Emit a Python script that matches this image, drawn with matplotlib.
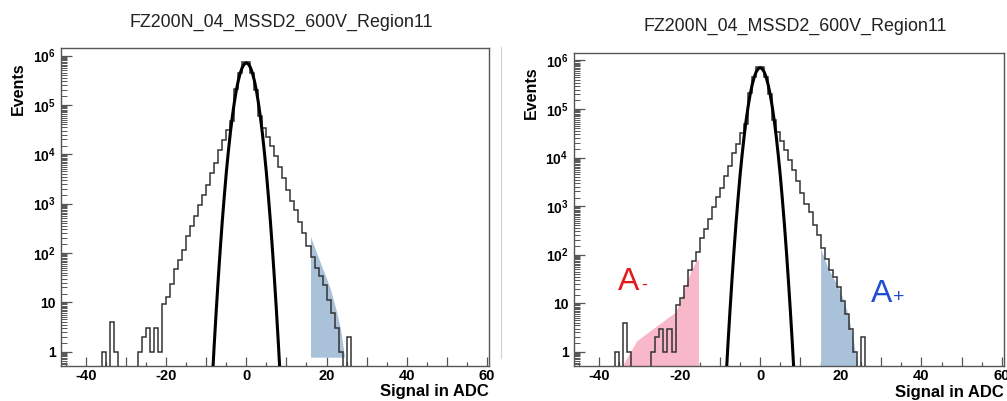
import numpy as np
import matplotlib.pyplot as plt
from matplotlib.ticker import LogLocator, MultipleLocator, NullFormatter
from matplotlib.lines import Line2D

plt.rcParams['font.family'] = ['Liberation Sans', 'DejaVu Sans']
plt.rcParams['mathtext.fontset'] = 'custom'
plt.rcParams['mathtext.rm'] = 'Liberation Sans'
plt.rcParams['mathtext.bf'] = 'Liberation Sans:bold'

title = 'FZ200N_04_MSSD2_600V_Region11'

# histogram, 1 ADC wide bins starting at -36
bin_edges = np.arange(-36, 27)
counts = [1, 0, 4, 1, 0, 0, 0, 0, 0, 1, 2, 3, 1, 3, 1, 9, 13, 23, 48, 73,
          115, 225, 344, 547, 950, 1510, 2400, 4150, 6600, 12300, 19000,
          31500, 48000, 210000, 450000, 730000, 730000, 450000, 200000,
          58500, 34000, 22400, 14400, 9100, 5600, 3300, 1900, 1100, 750,
          415, 250, 135, 82, 49, 34, 22, 11, 6, 3, 1, 0, 2]

# gaussian fit curve
fit_x = [-8.5, -8, -7.5, -7, -6.5, -6, -5.5, -5, -4.5, -4, -3.5, -3, -2.5,
         -2, -1.5, -1, -0.5, 0, 0.5, 1, 1.5, 2, 2.5, 3, 3.5, 4, 4.5, 5,
         5.5, 6, 6.5, 7, 7.5, 8, 8.5]
fit_y = [0.25, 1.4, 6.8, 30, 120, 435, 1400, 4200, 11000, 26500, 57000,
         111000, 196000, 311000, 446000, 577000, 673000, 708000, 673000,
         577000, 446000, 311000, 196000, 111000, 57000, 26500, 11000, 4200,
         1400, 435, 120, 30, 6.8, 1.4, 0.25]

# shaded tails
blue_left_x = [16.0, 17.0, 18.5, 20.0, 21.0, 22.6, 23.5, 24.3, 24.5]
blue_left_top = [214, 130, 62, 30, 18, 6, 2.8, 1.0, 0.77]
blue_left_base = 0.77

blue_right_x = [15.0, 16.7, 18.0, 19.4, 20.5, 21.5, 22.3, 23.1, 24.1]
blue_right_top = [135, 56, 35, 22, 12.6, 7.2, 3.7, 1.8, 0.51]

pink_x = [-34.3, -30.6, -21.1, -20.0, -19.0, -18.0, -17.0, -16.0, -15.3]
pink_top = [0.5, 1.7, 6.5, 10, 18, 30, 50, 72, 80]

ytick_vals = [1, 10, 1e2, 1e3, 1e4, 1e5, 1e6]
ytick_labels = ['1', '10', r'$\mathbf{10^{2}}$', r'$\mathbf{10^{3}}$',
                r'$\mathbf{10^{4}}$', r'$\mathbf{10^{5}}$', r'$\mathbf{10^{6}}$']

frame_col = '#555555'
hist_col = '#333333'
blue_col = '#a9c1d9'
pink_col = '#f9b8c9'

fig = plt.figure(figsize=(10.07, 4.01), dpi=100)
axL = fig.add_axes([0.0606, 0.0873, 0.425, 0.793])
axR = fig.add_axes([0.570, 0.0873, 0.427, 0.7805])


def style(ax, xlab_y):
    ax.set_yscale('log')
    ax.set_xlim(-46.2, 60.5)
    ax.set_ylim(0.51, 1.42e6)
    xt = np.arange(-40, 61, 10)
    ax.set_xticks(xt)
    ax.set_xticklabels([str(v) if v % 20 == 0 else '' for v in xt],
                       fontweight='bold', fontsize=10.5)
    ax.xaxis.set_minor_locator(MultipleLocator(5))
    ax.set_yticks(ytick_vals)
    ax.set_yticklabels(ytick_labels, fontweight='bold', fontsize=10)
    ax.yaxis.set_minor_locator(LogLocator(subs=np.arange(1.5, 10, 0.5)))
    ax.yaxis.set_minor_formatter(NullFormatter())
    ax.tick_params(axis='x', which='major', direction='in', length=6.5,
                   width=0.9, color=frame_col, pad=2.5)
    ax.tick_params(axis='x', which='minor', direction='in', length=3.2,
                   width=0.9, color=frame_col)
    ax.tick_params(axis='y', which='major', direction='in', length=8,
                   width=0.9, color=frame_col, pad=4)
    ax.tick_params(axis='y', which='minor', direction='in', length=4,
                   width=0.7, color=frame_col)
    ax.tick_params(top=False, right=False, which='both')
    for sp in ax.spines.values():
        sp.set_color(frame_col)
        sp.set_linewidth(1.0)
    vals = np.where(np.array(counts) > 0, counts, 1e-3)
    ax.stairs(vals, bin_edges, baseline=1e-3, color=hist_col, lw=1.1,
              zorder=3)
    ax.plot(fit_x, fit_y, color='black', lw=2.2, zorder=4)
    ax.text(1.0, xlab_y, 'Signal in ADC', transform=ax.transAxes,
            ha='right', va='top', fontsize=12, fontweight='bold')
    ax.text(-0.1, 0.956, 'Events', transform=ax.transAxes, rotation=90,
            ha='center', va='top', fontsize=11.5, fontweight='bold')


style(axL, -0.058)
style(axR, -0.06)

axL.fill_between(blue_left_x, blue_left_base, blue_left_top, color=blue_col,
                 lw=0, zorder=2)
axR.fill_between(blue_right_x, 0.51, blue_right_top, color=blue_col,
                 lw=0, zorder=2)
axR.fill_between(pink_x, 0.51, pink_top, color=pink_col, lw=0, zorder=2)

fig.text(281 / 1007, 1 - 22 / 401, title, ha='center', va='center',
         fontsize=12.9, color='#222222')
fig.text(795 / 1007, 1 - 26 / 401, title, ha='center', va='center',
         fontsize=12.9, color='#222222')

# A- and A+ labels
axR.text(-35.2, 18.7, 'A', color='#e3191b', fontsize=23, ha='left',
         va='baseline')
axR.text(-29.6, 18.7, '-', color='#e3191b', fontsize=13, ha='left',
         va='baseline')
axR.text(27.5, 10.6, 'A', color='#1f4fd1', fontsize=23, ha='left',
         va='baseline')
axR.text(32.9, 10.6, '+', color='#1f4fd1', fontsize=14, ha='left',
         va='baseline')

fig.add_artist(Line2D([500.5 / 1007] * 2, [1 - 358 / 401, 1 - 47 / 401],
                      color='#d0d0d0', lw=0.8))

fig.savefig('out.png', dpi=100)
